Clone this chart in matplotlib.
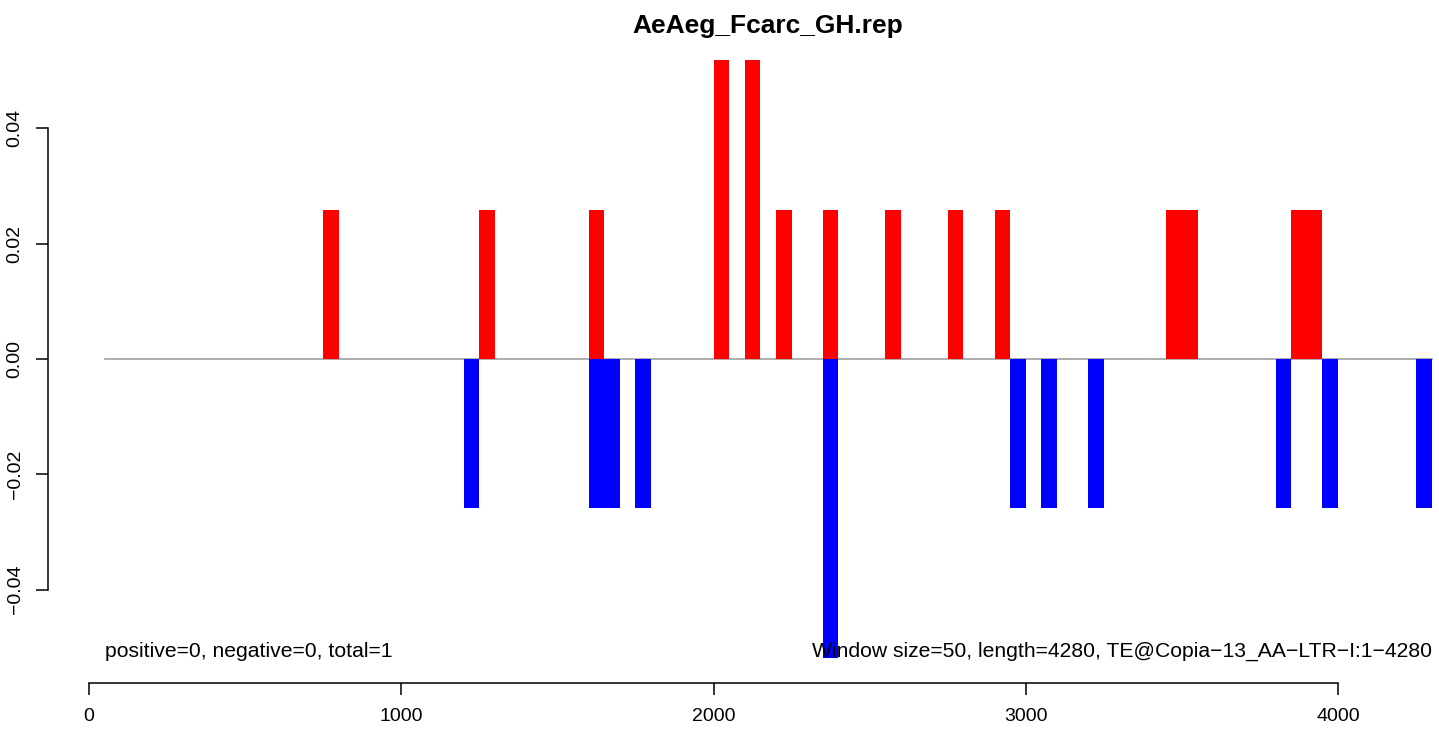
import matplotlib
matplotlib.use("Agg")
import matplotlib.pyplot as plt

plt.rcParams['font.family'] = ['Liberation Sans', 'DejaVu Sans']

title = "AeAeg_Fcarc_GH.rep"
window = 50
seq_start = 50
seq_end = 4300

# window starts and heights of the positive (red) bars
pos_start = [750, 1250, 1600, 2000, 2100, 2200, 2350, 2550, 2750, 2900, 3450, 3500, 3850, 3900]
pos_val = [0.0259, 0.0259, 0.0259, 0.0518, 0.0518, 0.0259, 0.0259, 0.0259, 0.0259, 0.0259,
           0.0259, 0.0259, 0.0259, 0.0259]

# window starts and heights of the negative (blue) bars
neg_start = [1200, 1600, 1650, 1750, 2350, 2950, 3050, 3200, 3800, 3950, 4250]
neg_val = [-0.0259, -0.0259, -0.0259, -0.0259, -0.0518, -0.0259, -0.0259, -0.0259,
           -0.0259, -0.0259, -0.0259]

yticks = [-0.04, -0.02, 0.0, 0.02, 0.04]
xticks = [0, 1000, 2000, 3000, 4000]

left_note = "positive=0, negative=0, total=1"
right_note = "Window size=50, length=4280, TE@Copia\u221213_AA\u2212LTR\u2212I:1\u22124280"

fig = plt.figure(figsize=(14.39, 7.29), dpi=100)
W, H = 1439, 729
ax = fig.add_axes([48 / W, (H - 683) / H, 1440 / W, 648 / H])

# baseline, then the red / blue windows on top
ax.plot([seq_start, seq_end], [0, 0], color='#a0a0a0', lw=1.2, zorder=1)
ax.bar(pos_start, pos_val, width=window, align='edge', color='#ff0000', linewidth=0, zorder=2)
ax.bar(neg_start, neg_val, width=window, align='edge', color='#0000ff', linewidth=0, zorder=2)

ax.set_xlim(-131, 4480)
ax.set_ylim(-0.0562, 0.0562)

for s in ['top', 'right']:
    ax.spines[s].set_visible(False)
ax.spines['left'].set_bounds(yticks[0], yticks[-1])
ax.spines['bottom'].set_bounds(xticks[0], xticks[-1])
for s in ['left', 'bottom']:
    ax.spines[s].set_linewidth(1.1)

ax.set_xticks(xticks)
ax.set_xticklabels([str(t) for t in xticks])
ax.set_yticks(yticks)
ax.set_yticklabels(['\u22120.04', '\u22120.02', '0.00', '0.02', '0.04'],
                   rotation=90, va='center')
ax.tick_params(axis='both', length=8.5, width=1.1, labelsize=14, direction='out')
ax.tick_params(axis='x', pad=9.5)
ax.tick_params(axis='y', pad=9)

ax.text(seq_start, -0.0517, left_note, ha='left', va='baseline', fontsize=15.2)
ax.text(seq_end, -0.0517, right_note, ha='right', va='baseline', fontsize=15.2)

fig.text(768 / W, (H - 33) / H, title, ha='center', va='baseline',
         fontsize=19, fontweight='bold')

fig.savefig("out.png", dpi=100)
